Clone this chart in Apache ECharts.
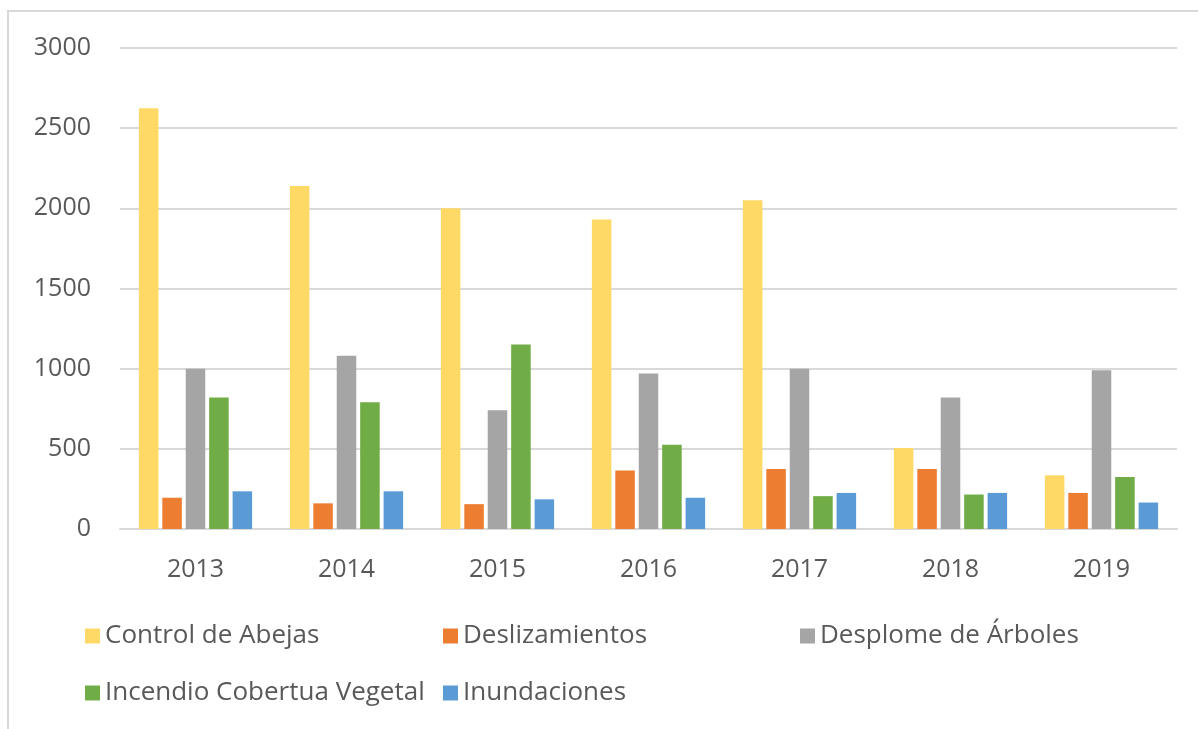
<!DOCTYPE html>
<html>
<head>
<meta charset="utf-8">
<script src="https://cdn.jsdelivr.net/npm/echarts@6/dist/echarts.min.js"></script>
<style>
  html, body { margin: 0; padding: 0; background: #fff; }
  #chart { width: 1198px; height: 729px; }
</style>
</head>
<body>
<div id="chart"></div>
<script>
var years = ['2013', '2014', '2015', '2016', '2017', '2018', '2019'];
var controlAbejas = [2625, 2140, 2000, 1930, 2050, 505, 335];
var deslizamientos = [195, 160, 155, 365, 375, 375, 225];
var desplomeArboles = [1000, 1080, 740, 970, 1000, 820, 990];
var incendioCobertura = [820, 790, 1150, 525, 205, 215, 325];
var inundaciones = [235, 235, 185, 195, 225, 225, 165];

var names = ['Control de Abejas', 'Deslizamientos', 'Desplome de Árboles', 'Incendio Cobertua Vegetal', 'Inundaciones'];
var colors = ['#FFD966', '#ED7D31', '#A5A5A5', '#70AD47', '#5B9BD5'];
var values = [controlAbejas, deslizamientos, desplomeArboles, incendioCobertura, inundaciones];

var textColor = '#595959';
var font = '"Open Sans", "Liberation Sans", sans-serif';

// legend slots laid out like the Excel grid (3 columns, 2 rows)
var legendPos = [
  { left: 80, top: 618 },
  { left: 438, top: 618 },
  { left: 795, top: 618 },
  { left: 80, top: 675 },
  { left: 438, top: 675 }
];

var myChart = echarts.init(document.getElementById('chart'));
var option = {
  backgroundColor: '#fff',
  animation: false,
  color: colors,
  graphic: [{
    type: 'rect',
    shape: { x: 8, y: 11, width: 1400, height: 900 },
    style: { fill: 'none', stroke: '#D9D9D9', lineWidth: 2 },
    silent: true
  }],
  grid: { left: 120, right: 21, top: 48, bottom: 200 },
  legend: names.map(function (n, i) {
    return {
      data: [n],
      left: legendPos[i].left,
      top: legendPos[i].top,
      icon: 'rect',
      itemWidth: 15,
      itemHeight: 15,
      itemGap: 0,
      textStyle: { color: textColor, fontSize: 26, fontFamily: font },
      selectedMode: false
    };
  }),
  xAxis: {
    type: 'category',
    data: years,
    axisLine: { show: true, lineStyle: { color: '#D9D9D9', width: 2 } },
    axisTick: { show: false },
    axisLabel: { color: textColor, fontSize: 25, fontFamily: font, margin: 28 }
  },
  yAxis: {
    type: 'value',
    min: 0,
    max: 3000,
    interval: 500,
    axisLine: { show: false },
    axisTick: { show: false },
    axisLabel: {
      color: textColor, fontSize: 25, fontFamily: font, margin: 29,
      formatter: function (v) { return String(v); }
    },
    splitLine: { lineStyle: { color: '#D9D9D9', width: 2 } }
  },
  series: names.map(function (n, i) {
    return {
      name: n,
      type: 'bar',
      data: values[i],
      barGap: '20%',
      barCategoryGap: '25%',
      itemStyle: { color: colors[i] }
    };
  })
};
myChart.setOption(option);
</script>
</body>
</html>
